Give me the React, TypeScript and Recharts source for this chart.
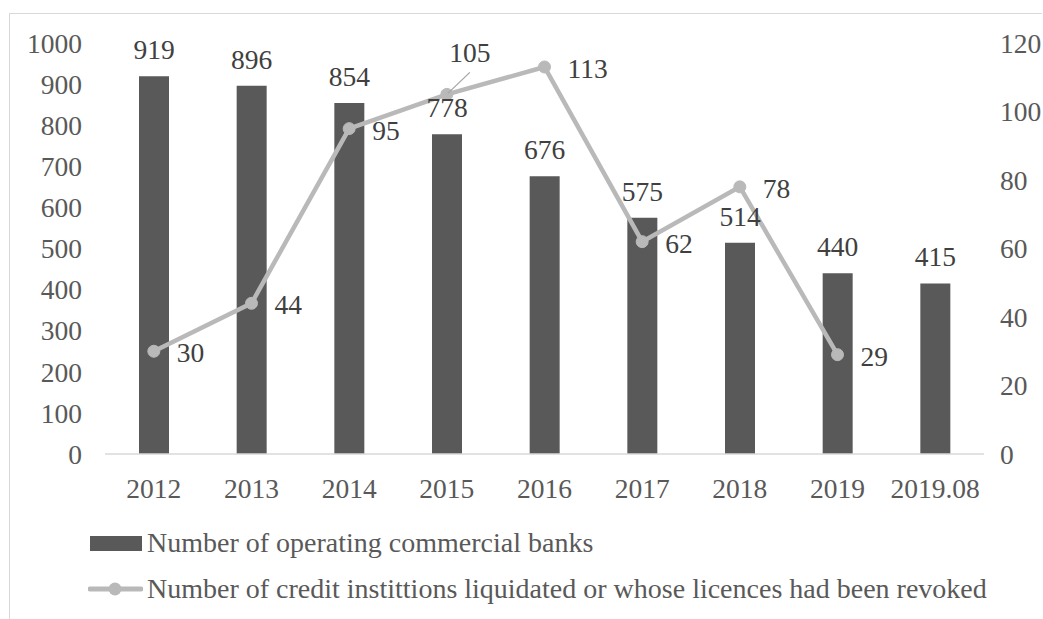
import {
    ComposedChart,
    Bar,
    Line,
    XAxis,
    YAxis,
    Legend,
    LabelList
} from 'recharts';

const years = ['2012', '2013', '2014', '2015', '2016', '2017', '2018', '2019', '2019.08'];
const operatingBanks = [919, 896, 854, 778, 676, 575, 514, 440, 415];
const revokedLicences = [30, 44, 95, 105, 113, 62, 78, 29, null];
const leftTicks = [0, 100, 200, 300, 400, 500, 600, 700, 800, 900, 1000];
const rightTicks = [0, 20, 40, 60, 80, 100, 120];

const BAR_NAME = 'Number of operating commercial banks';
const LINE_NAME = 'Number of credit instittions liquidated or whose licences had been revoked';

const FONT = 'Liberation Serif, Times New Roman, serif';
const FONT_SIZE = 27.5;
const TICK_COLOR = '#595959';
const LABEL_COLOR = '#404040';
const BAR_COLOR = '#595959';
const LINE_COLOR = '#b9b9b9';

const data = years.map((year, i) => ({
    year,
    banks: operatingBanks[i],
    revoked: revokedLicences[i]
}));

const tickStyle = { fontSize: FONT_SIZE, fill: TICK_COLOR, fontFamily: FONT, style: { fontFamily: FONT } };

// line labels sit to the right of the marker, except 105 which Excel pulled up with a leader line
function LineLabel(props: any) {
    const { x, y, value, index } = props;
    if (value === null || value === undefined) return null;
    const textStyle = { fontFamily: FONT, fontSize: FONT_SIZE, fill: LABEL_COLOR };
    if (index === 3) {
        return (
            <g>
                <line x1={x + 1} y1={y - 1} x2={x + 23} y2={y - 22} stroke="#a6a6a6" strokeWidth={1.3} />
                <text x={x + 23} y={y - 32} textAnchor="middle" style={textStyle}>
                    {value}
                </text>
            </g>
        );
    }
    return (
        <text x={x + 23} y={y + 11} textAnchor="start" style={textStyle}>
            {value}
        </text>
    );
}

function renderLegend() {
    const row = { display: 'flex', alignItems: 'center', height: 46 } as const;
    return (
        <div style={{ fontFamily: FONT, fontSize: 28, color: TICK_COLOR, whiteSpace: 'nowrap' }}>
            <div style={row}>
                <span style={{ display: 'inline-block', width: 52, height: 15, background: BAR_COLOR, marginLeft: 2, marginRight: 5 }} />
                <span style={{ lineHeight: '46px' }}>{BAR_NAME}</span>
            </div>
            <div style={row}>
                <svg width={55} height={16} style={{ marginRight: 4 }}>
                    <line x1={2} y1={8} x2={53} y2={8} stroke={LINE_COLOR} strokeWidth={5} strokeLinecap="round" />
                    <circle cx={27} cy={8} r={6.5} fill={LINE_COLOR} />
                </svg>
                <span style={{ lineHeight: '46px' }}>{LINE_NAME}</span>
            </div>
        </div>
    );
}

export default function App() {
    return (
        <div
            style={{
                position: 'absolute',
                left: 0,
                top: 0,
                width: 1043,
                height: 619,
                overflow: 'hidden',
                background: '#fff',
                fontFamily: FONT
            }}
        >
            <div
                style={{
                    position: 'absolute',
                    left: 9,
                    top: 13,
                    width: 1032,
                    height: 700,
                    borderTop: '1px solid #d9d9d9',
                    borderLeft: '1px solid #d9d9d9'
                }}
            />
            <ComposedChart
                width={1043}
                height={619}
                data={data}
                margin={{ top: 43, right: 0, bottom: 105, left: 0 }}
                style={{ fontFamily: FONT }}
            >
                <XAxis
                    dataKey="year"
                    interval={0}
                    height={60}
                    tick={tickStyle}
                    tickLine={false}
                    tickSize={0}
                    tickMargin={24}
                    axisLine={{ stroke: '#d9d9d9', strokeWidth: 1.5 }}
                />
                <YAxis
                    yAxisId="left"
                    orientation="left"
                    width={105}
                    domain={[0, 1000]}
                    ticks={leftTicks}
                    tick={tickStyle}
                    axisLine={false}
                    tickLine={false}
                    tickSize={0}
                    tickMargin={23}
                />
                <YAxis
                    yAxisId="right"
                    orientation="right"
                    width={59}
                    domain={[0, 120]}
                    ticks={rightTicks}
                    tick={tickStyle}
                    axisLine={false}
                    tickLine={false}
                    tickSize={0}
                    tickMargin={16}
                />
                <Legend
                    layout="horizontal"
                    verticalAlign="middle"
                    align="center"
                    content={renderLegend}
                    wrapperStyle={{ top: 520, left: 88, width: 950, height: 92 }}
                />
                <Bar yAxisId="left" dataKey="banks" name={BAR_NAME} fill={BAR_COLOR} barSize={30} isAnimationActive={false}>
                    <LabelList
                        dataKey="banks"
                        position="top"
                        offset={17}
                        fontFamily={FONT}
                        style={{ fontSize: FONT_SIZE, fontFamily: FONT, fill: LABEL_COLOR }}
                    />
                </Bar>
                <Line
                    yAxisId="right"
                    dataKey="revoked"
                    name={LINE_NAME}
                    stroke={LINE_COLOR}
                    strokeWidth={4.5}
                    dot={{ r: 6, fill: LINE_COLOR, stroke: LINE_COLOR, strokeWidth: 1 }}
                    activeDot={false}
                    connectNulls={false}
                    isAnimationActive={false}
                >
                    <LabelList dataKey="revoked" content={LineLabel} />
                </Line>
            </ComposedChart>
        </div>
    );
}
